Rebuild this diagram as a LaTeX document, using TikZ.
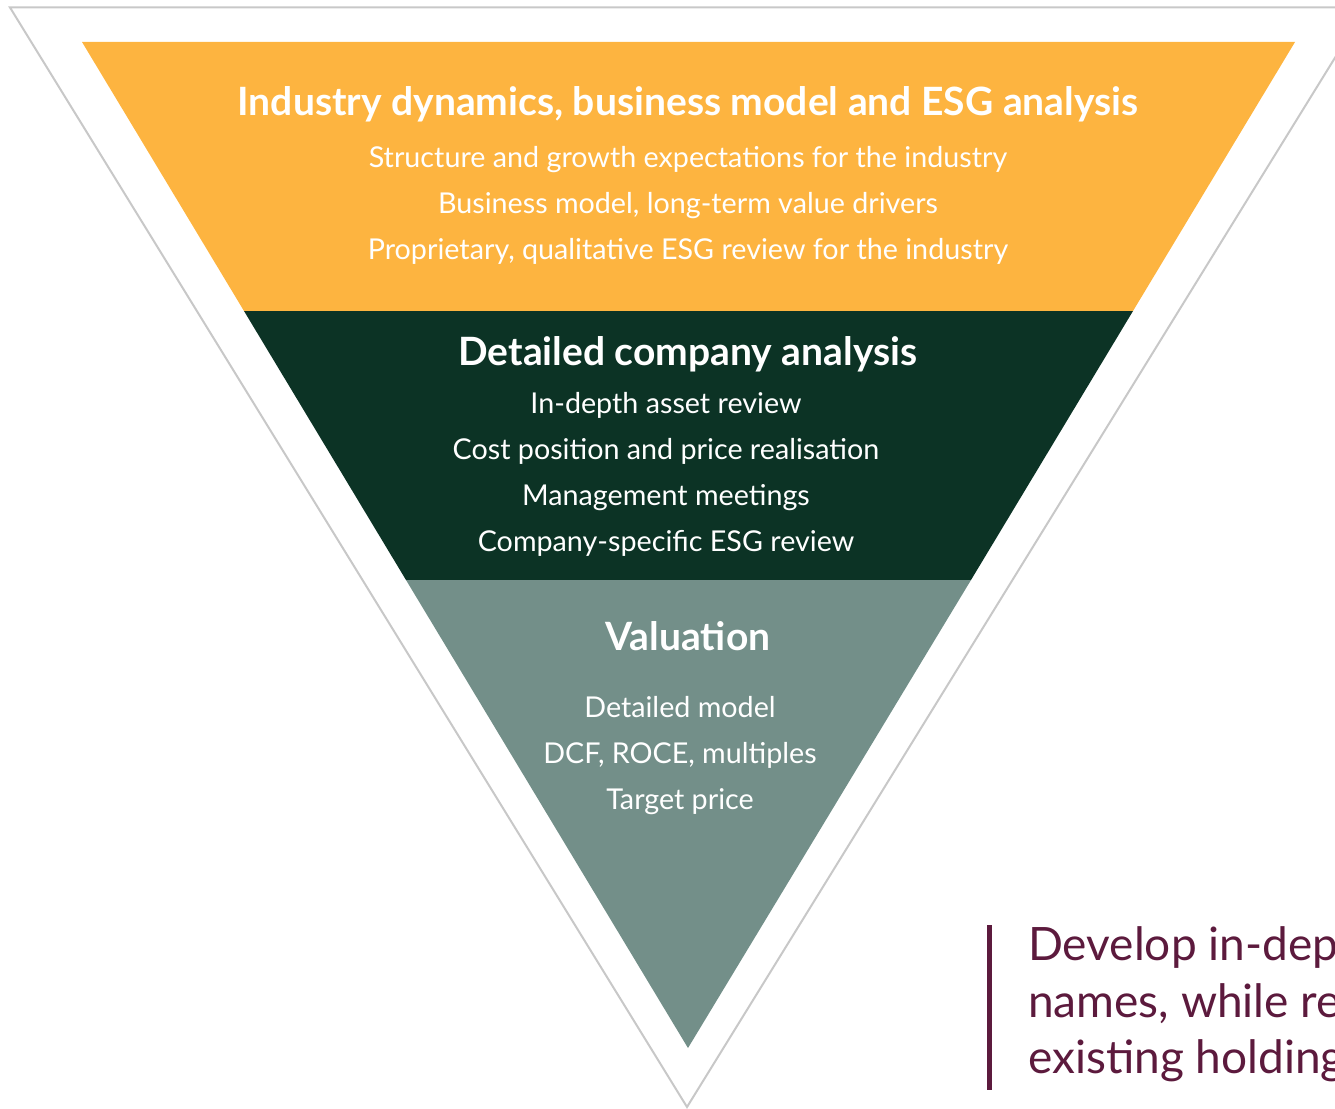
\documentclass[tikz,border=0pt]{standalone}
\usepackage{fontspec}
\setmainfont{Lato}
\usepackage{tikz}

\begin{document}
\begin{tikzpicture}[x=1pt,y=1pt,yscale=-1,xscale=1,
    heading/.style={anchor=base,inner sep=0.75pt,text=white,font=\fontsize{39}{43}\selectfont\bfseries},
    item/.style={anchor=base,inner sep=0.75pt,text=white,font=\fontsize{28.7}{32}\selectfont}]
    %set diagram size to the reference
    \useasboundingbox (0,0) rectangle (1335,1108);
    \clip (0,0) rectangle (1335,1108);

    %Shape: Triangle [outer outline]
    \draw [color={rgb, 255:red, 200; green, 200; blue, 200 }, line width=2] (10,7.5) -- (1366,7.5) -- (687,1107) -- cycle;
    %Shape: Trapezoid [top band]
    \fill [color={rgb, 255:red, 253; green, 180; blue, 64 }] (82,42) -- (1295,42) -- (1133,311) -- (244,311) -- cycle;
    %Shape: Trapezoid [middle band]
    \fill [color={rgb, 255:red, 12; green, 51; blue, 37 }] (244,311) -- (1133,311) -- (971,580) -- (406,580) -- cycle;
    %Shape: Triangle [bottom band]
    \fill [color={rgb, 255:red, 115; green, 143; blue, 137 }] (406,580) -- (971,580) -- (688,1048) -- cycle;

    % Text Node
    \draw (688,115) node (indhead) [heading] {Industry dynamics, business model and ESG analysis};
    % Text Node
    \draw (688,167) node (inditem1) [item] {Structure and growth expectations for the industry};
    % Text Node
    \draw (688,213) node (inditem2) [item] {Business model, long-term value drivers};
    % Text Node
    \draw (688,259) node (inditem3) [item] {Proprietary, qualitative ESG review for the industry};

    % Text Node
    \draw (688,365) node (comphead) [heading] {Detailed company analysis};
    % Text Node
    \draw (666,413) node (compitem1) [item] {In-depth asset review};
    % Text Node
    \draw (666,459) node (compitem2) [item] {Cost position and price realisation};
    % Text Node
    \draw (666,505) node (compitem3) [item] {Management meetings};
    % Text Node
    \draw (666,551) node (compitem4) [item] {Company-specific ESG review};

    % Text Node
    \draw (688,650) node (valhead) [heading] {Valuation};
    % Text Node
    \draw (680,717) node (valitem1) [item] {Detailed model};
    % Text Node
    \draw (680,763) node (valitem2) [item] {DCF, ROCE, multiples};
    % Text Node
    \draw (680,809) node (valitem3) [item] {Target price};

    %Straight Lines [quote bar]
    \draw [color={rgb, 255:red, 92; green, 26; blue, 61 }, line width=5.5] (989.7,925) -- (989.7,1090);
    % Text Node
    \draw (1028,960) node (quote1) [anchor=base west,inner sep=0pt,text={rgb, 255:red, 92; green, 26; blue, 61 },font=\fontsize{46}{50}\selectfont] {Develop in-dep};
    % Text Node
    \draw (1028,1017) node (quote2) [anchor=base west,inner sep=0pt,text={rgb, 255:red, 92; green, 26; blue, 61 },font=\fontsize{46}{50}\selectfont] {names, while re};
    % Text Node
    \draw (1028,1073) node (quote3) [anchor=base west,inner sep=0pt,text={rgb, 255:red, 92; green, 26; blue, 61 },font=\fontsize{46}{50}\selectfont] {existing holding};

\end{tikzpicture}
\end{document}
